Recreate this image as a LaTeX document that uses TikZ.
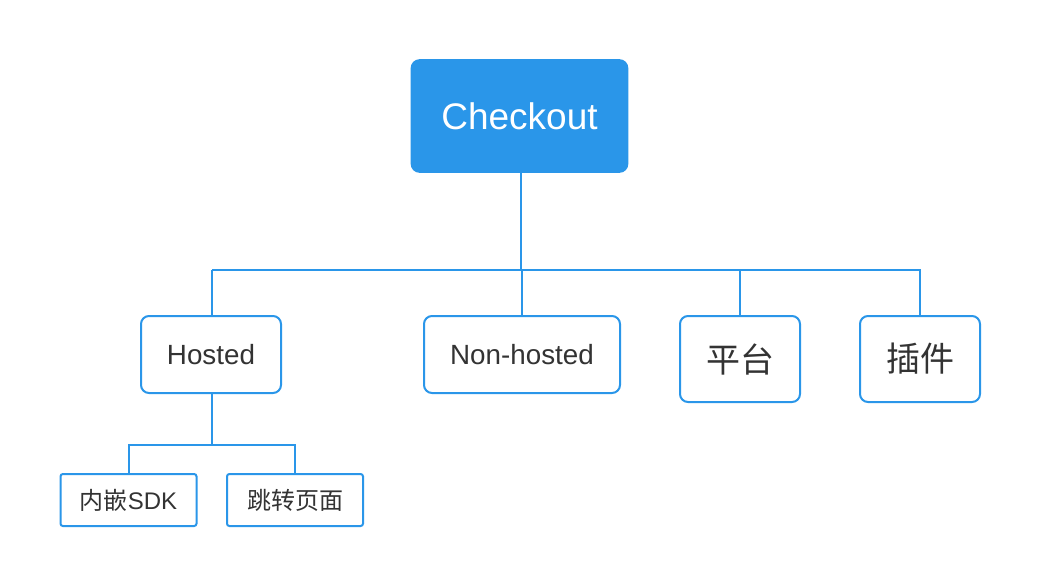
\documentclass[tikz,border=0pt]{standalone}
\usepackage{fontspec}
\setmainfont{Liberation Sans}
\newfontfamily\cjk{Noto Sans CJK SC}
\usetikzlibrary{positioning}
\definecolor{mainblue}{HTML}{2A96E9}
\definecolor{txtgray}{HTML}{333333}

\begin{document}
\begin{tikzpicture}[
      x=0.5pt, y=-0.5pt,
      %style for connectors
      conn/.style={draw=mainblue, line width=1pt},
      % style for the root box
      root/.style={rectangle, rounded corners=4pt, fill=mainblue, draw=mainblue, line width=0.8pt,
        text=white, font=\fontsize{18.5}{22}\selectfont, minimum width=108pt, minimum height=56pt},
      % style for second level boxes
      sub/.style={rectangle, rounded corners=4pt, fill=white, draw=mainblue, line width=1pt,
        text=txtgray, minimum height=38.5pt},
      % style for leaf boxes
      leaf/.style={rectangle, rounded corners=1.2pt, fill=white, draw=mainblue, line width=1pt,
        text=txtgray, font=\fontsize{12}{14}\selectfont, minimum width=68pt, minimum height=26pt}]

      \useasboundingbox (0,0) rectangle (1040,586);

      %nodes
      \node[root](checkout) at (519.5,116){Checkout};
      \node[sub, minimum width=70pt, font=\fontsize{13.9}{16}\selectfont](hosted) at (211,354.5){Hosted};
      \node[sub, minimum width=98pt, font=\fontsize{13.9}{16}\selectfont](nonhosted) at (522,354.5){Non-hosted};
      \node[sub, minimum width=60pt, minimum height=43pt, font=\cjk\fontsize{17}{20}\selectfont](platform) at (740,359){平台};
      \node[sub, minimum width=60pt, minimum height=43pt, font=\cjk\fontsize{17}{20}\selectfont](plugin) at (920,359){插件};
      \node[leaf](sdk) at (128.5,500){{\cjk 内嵌}SDK};
      \node[leaf](redirect) at (295,500){\cjk 跳转页面};
      \coordinate (split) at (521,270);
      \coordinate (hsplit) at (212,445);

      %edges
      \draw[conn](checkout.south -| split) -- (split);
      \draw[conn](split -| hsplit) -| (plugin.north);
      \draw[conn](split -| hsplit) -- (hosted.north -| hsplit);
      \draw[conn](split -| nonhosted.north) -- (nonhosted.north);
      \draw[conn](split -| platform.north) -- (platform.north);
      \draw[conn](hosted.south -| hsplit) -- (hsplit);
      \draw[conn](sdk.north) |- (hsplit) -| (redirect.north);
\end{tikzpicture}
\end{document}
